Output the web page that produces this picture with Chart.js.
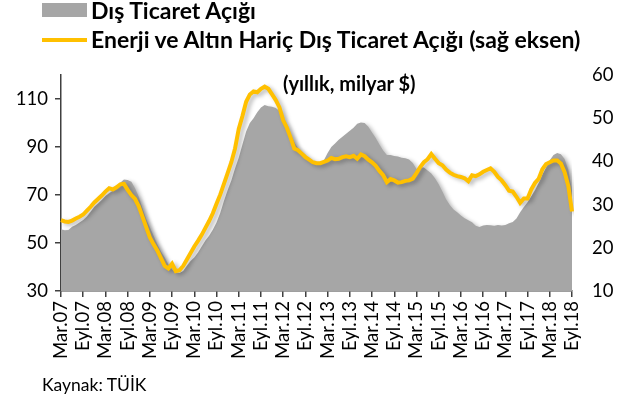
<!DOCTYPE html>
<html>
<head>
<meta charset="utf-8">
<script src="https://cdn.jsdelivr.net/npm/chart.js@4.4.0/dist/chart.umd.min.js"></script>
<style>
  body { margin: 0; background: #fff; }
  #wrap { position: relative; width: 617px; height: 405px; font-family: Lato, sans-serif; color: #000; overflow: hidden; }
  #wrap canvas { position: absolute; left: 0; top: 0; }
  .abs { position: absolute; white-space: nowrap; }
  .leg { font-weight: bold; font-size: 23px; line-height: 26px; }
</style>
</head>
<body>
<div id="wrap">
  <canvas id="chart" width="617" height="405"></canvas>
  <div class="abs" style="left:42px;top:3px;width:45px;height:14px;background:#a6a6a6"></div>
  <div class="abs" style="left:42px;top:38px;width:45px;height:4px;background:#ffc000"></div>
  <div class="abs leg" style="left:91px;top:-3px">Dış Ticaret Açığı</div>
  <div class="abs leg" style="left:91px;top:26px">Enerji ve Altın Hariç Dış Ticaret Açığı (sağ eksen)</div>
  <div class="abs" style="left:283px;top:71px;font-weight:bold;font-size:20px;line-height:24px">(yıllık, milyar $)</div>
  <div class="abs" style="left:42px;top:374px;font-size:17.5px;line-height:22px">Kaynak: TÜİK</div>
</div>
<script>
// Months Mar.07 .. Eyl.18
const monthNames = ['Oca', 'Şub', 'Mar', 'Nis', 'May', 'Haz', 'Tem', 'Ağu', 'Eyl', 'Eki', 'Kas', 'Ara'];
const labels = [];
for (let y = 2007; y <= 2018; y++) {
    for (let m = 0; m < 12; m++) {
        if ((y === 2007 && m < 2) || (y === 2018 && m > 8)) continue;
        labels.push(monthNames[m] + '.' + String(y).slice(2));
    }
}

// Dış ticaret açığı, yıllık milyar $ (sol eksen)
const tradeGap = [
    55.7, 55.3, 55.4, 56.8, 57.5, 58.5, 59.6, 61.0, 63.0, 65.1, 66.5, 67.9,
    69.6, 70.7, 71.8, 73.5, 75.1, 76.5, 76.2, 75.5, 72.8, 69.3, 64.5, 60.0,
    56.5, 53.0, 49.5, 46.5, 44.0, 41.0, 39.0, 37.6, 37.5, 38.3, 40.5, 42.5,
    44.0, 46.0, 48.5, 51.0, 53.0, 55.5, 58.5, 62.5, 67.5, 72.0, 76.0, 81.0,
    85.5, 91.0, 96.5, 100.0, 102.0, 104.5, 106.5, 107.5, 107.0, 106.8, 106.3, 105.0,
    101.0, 98.0, 95.0, 92.0, 89.5, 87.0, 85.5, 84.3, 83.5, 82.9, 83.3, 84.5,
    87.5, 90.0, 91.5, 93.0, 94.3, 95.5, 96.8, 98.0, 99.7, 100.2, 100.0, 98.4,
    96.0, 93.8, 91.0, 88.5, 86.7, 86.7, 86.3, 86.0, 85.5, 85.3, 84.8, 83.3,
    80.8, 81.6, 81.5, 80.2, 79.0, 77.0, 74.5, 71.5, 68.2, 65.8, 64.0, 62.8,
    61.5, 60.3, 59.5, 58.6, 57.2, 56.7, 57.3, 57.5, 57.4, 57.2, 57.5, 57.3,
    57.5, 58.2, 58.7, 60.2, 62.8, 65.0, 67.0, 69.5, 72.0, 75.0, 78.5, 81.5,
    84.5, 86.7, 87.5, 87.0, 85.0, 80.5, 72.0
];

// Enerji ve altın hariç dış ticaret açığı (sağ eksen)
const coreGap = [
    26.4, 26.1, 26.0, 26.3, 26.8, 27.2, 27.7, 28.6, 29.5, 30.5, 31.3, 32.1,
    33.0, 33.8, 33.5, 34.0, 34.7, 34.8, 33.4, 32.2, 31.3, 29.6, 27.2, 24.8,
    22.4, 20.8, 19.4, 17.6, 15.8, 15.2, 16.3, 14.6, 14.8, 15.8, 17.3, 18.8,
    20.3, 21.6, 23.0, 24.6, 26.2, 28.0, 30.2, 32.3, 34.8, 37.3, 39.8, 43.0,
    47.5, 50.5, 53.8, 55.5, 56.2, 56.0, 56.8, 57.3, 56.8, 55.5, 54.2, 52.5,
    49.5, 47.8, 45.5, 43.0, 42.6, 41.8, 41.0, 40.4, 39.8, 39.6, 39.6, 39.9,
    40.2, 40.8, 40.5, 40.6, 41.0, 41.2, 41.0, 41.3, 40.6, 41.6, 41.2, 40.4,
    39.8, 39.0, 37.8, 36.8, 35.2, 35.9, 35.6, 35.1, 35.2, 35.5, 35.6, 36.0,
    37.3, 38.7, 39.8, 40.5, 41.7, 40.6, 39.6, 39.1, 38.1, 37.4, 36.9, 36.6,
    36.4, 36.1, 35.4, 36.8, 36.6, 37.0, 37.6, 38.0, 38.4, 37.6, 36.4, 35.6,
    34.5, 33.2, 33.0, 31.8, 30.4, 31.4, 31.4, 33.5, 35.0, 36.0, 38.2, 39.4,
    39.8, 40.2, 40.2, 39.5, 37.5, 34.3, 28.4
];

const leftTicks = [30, 50, 70, 90, 110];
const rightTicks = [10, 20, 30, 40, 50, 60];
const shownMonths = ['Mar', 'Eyl'];

const axisColor = '#404040';
const tickFont = { family: 'Lato', size: 18.5 };

// soft drop shadow like the Excel original
const shadowPlugin = {
    id: 'shadow',
    beforeDatasetsDraw(chart) {
        const c = chart.ctx;
        c.save();
        c.shadowColor = 'rgba(0,0,0,0.28)';
        c.shadowBlur = 4;
        c.shadowOffsetX = 3;
        c.shadowOffsetY = 2;
    },
    afterDatasetsDraw(chart) {
        chart.ctx.restore();
    }
};

const ctx = document.getElementById('chart').getContext('2d');
new Chart(ctx, {
    type: 'line',
    data: {
        labels: labels,
        datasets: [{
            label: 'Enerji ve Altın Hariç Dış Ticaret Açığı (sağ eksen)',
            data: coreGap,
            yAxisID: 'y1',
            borderColor: '#ffc000',
            borderWidth: 4,
            pointRadius: 0,
            fill: false,
            tension: 0,
            order: 1
        }, {
            label: 'Dış Ticaret Açığı',
            data: tradeGap,
            yAxisID: 'y',
            backgroundColor: '#a6a6a6',
            borderWidth: 0,
            pointRadius: 0,
            fill: 'start',
            tension: 0,
            order: 2
        }]
    },
    options: {
        responsive: false,
        animation: false,
        layout: { padding: { top: 75, left: 0, right: 0, bottom: 0 } },
        plugins: {
            legend: { display: false },
            tooltip: { enabled: false }
        },
        scales: {
            x: {
                offset: false,
                grid: { drawOnChartArea: false, tickLength: 6, color: axisColor, lineWidth: 1.5 },
                border: { color: axisColor, width: 1.5 },
                ticks: { autoSkip: false, maxRotation: 90, minRotation: 90, padding: 4, color: '#000', font: tickFont },
                afterBuildTicks: s => {
                    s.ticks = s.ticks.filter(t => shownMonths.includes(labels[t.value].slice(0, 3)));
                },
                afterFit: s => { s.height = 114; }
            },
            y: {
                position: 'left',
                min: 30,
                max: 120,
                grid: { drawOnChartArea: false, tickLength: 6, color: axisColor, lineWidth: 1.5 },
                border: { color: axisColor, width: 1.5 },
                ticks: { padding: 7, color: '#000', font: tickFont },
                afterBuildTicks: s => { s.ticks = leftTicks.map(v => ({ value: v })); },
                afterFit: s => { s.width = 61; }
            },
            y1: {
                position: 'right',
                min: 10,
                max: 60,
                grid: { display: false },
                border: { display: false },
                ticks: { padding: 12, color: '#000', font: tickFont },
                afterBuildTicks: s => { s.ticks = rightTicks.map(v => ({ value: v })); },
                afterFit: s => { s.width = 45; }
            }
        }
    },
    plugins: [shadowPlugin]
});
</script>
</body>
</html>
